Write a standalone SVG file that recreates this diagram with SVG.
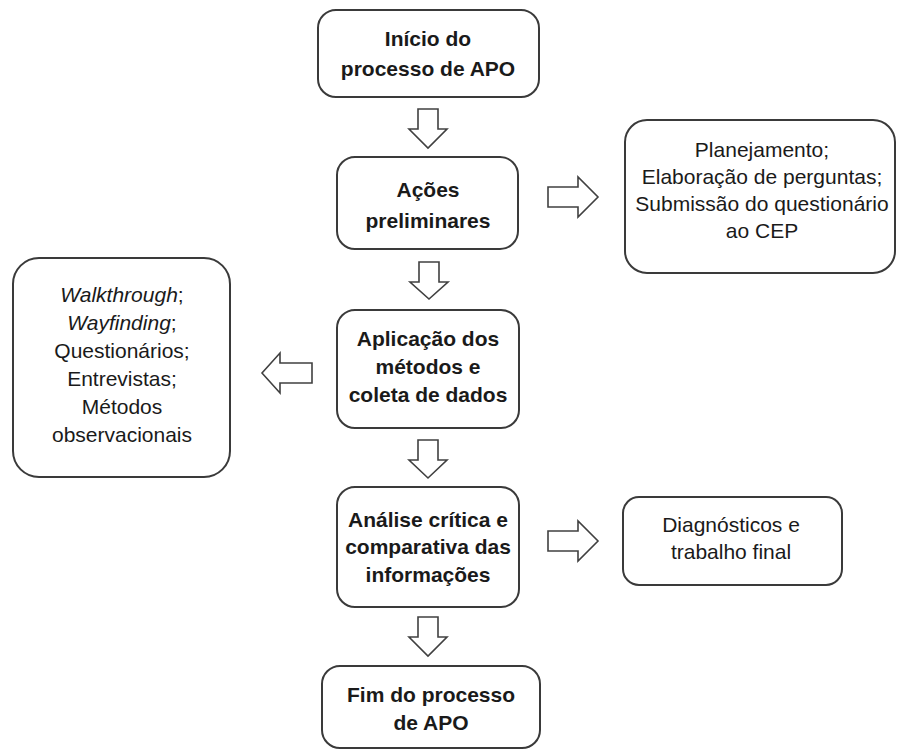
<svg xmlns="http://www.w3.org/2000/svg" width="897" height="749" viewBox="0 0 897 749">
  <style>
    .box { fill: #ffffff; stroke: #3a3a3a; stroke-width: 2; }
    .arrow { fill: #ffffff; stroke: #404040; stroke-width: 1.6; stroke-linejoin: miter; }
    text { font-family: "Liberation Sans", Arial, sans-serif; font-size: 21px; fill: #1a1a1a; text-anchor: middle; }
    .b { font-weight: bold; }
    .i { font-style: italic; }
  </style>
  <rect width="897" height="749" fill="#ffffff"/>

  <!-- block arrows -->
  <g id="connectors">
    <path class="arrow" d="M418,109 H438 V129 H447 L428,148 L409,129 H418 Z"/>
    <path class="arrow" d="M419,262 H439 V282 H448 L429,299 L410,282 H419 Z"/>
    <path class="arrow" d="M418,440 H438 V460 H447 L428,478 L409,460 H418 Z"/>
    <path class="arrow" d="M418,617 H438 V637 H447 L428,656 L409,637 H418 Z"/>
    <path class="arrow" d="M548,187 H578 V177 L598,197 L578,217 V207 H548 Z"/>
    <path class="arrow" d="M548,531 H578 V521 L598,541 L578,561 V551 H548 Z"/>
    <path class="arrow" d="M312,363 H280 V353 L262,373 L280,393 V383 H312 Z"/>
  </g>

  <g id="inicio">
    <rect class="box" x="318" y="10" width="221" height="87" rx="18"/>
    <text class="b" x="428" y="46">Início do</text>
    <text class="b" x="428" y="76">processo de APO</text>
  </g>

  <g id="acoes">
    <rect class="box" x="337" y="157" width="181" height="92" rx="18"/>
    <text class="b" x="428" y="197">Ações</text>
    <text class="b" x="428" y="228">preliminares</text>
  </g>

  <g id="planejamento">
    <rect class="box" x="625" y="120" width="270" height="153" rx="22"/>
    <text x="762" y="157">Planejamento;</text>
    <text x="762" y="184">Elaboração de perguntas;</text>
    <text x="762" y="211">Submissão do questionário</text>
    <text x="762" y="238">ao CEP</text>
  </g>

  <g id="metodos">
    <rect class="box" x="13" y="258" width="217" height="219" rx="26"/>
    <text x="122" y="302"><tspan class="i">Walkthrough</tspan>;</text>
    <text x="122" y="330"><tspan class="i">Wayfinding</tspan>;</text>
    <text x="122" y="358">Questionários;</text>
    <text x="122" y="386">Entrevistas;</text>
    <text x="122" y="414">Métodos</text>
    <text x="122" y="442">observacionais</text>
  </g>

  <g id="aplicacao">
    <rect class="box" x="337" y="310" width="182" height="118" rx="18"/>
    <text class="b" x="428" y="346">Aplicação dos</text>
    <text class="b" x="428" y="374">métodos e</text>
    <text class="b" x="428" y="402">coleta de dados</text>
  </g>

  <g id="analise">
    <rect class="box" x="337" y="487" width="182" height="120" rx="18"/>
    <text class="b" x="428" y="527">Análise crítica e</text>
    <text class="b" x="428" y="554">comparativa das</text>
    <text class="b" x="428" y="582">informações</text>
  </g>

  <g id="diagnosticos">
    <rect class="box" x="623" y="497" width="219" height="88" rx="16"/>
    <text x="731" y="532">Diagnósticos e</text>
    <text x="731" y="559">trabalho final</text>
  </g>

  <g id="fim">
    <rect class="box" x="322" y="666" width="218" height="82" rx="18"/>
    <text class="b" x="431" y="702">Fim do processo</text>
    <text class="b" x="431" y="730">de APO</text>
  </g>
</svg>
